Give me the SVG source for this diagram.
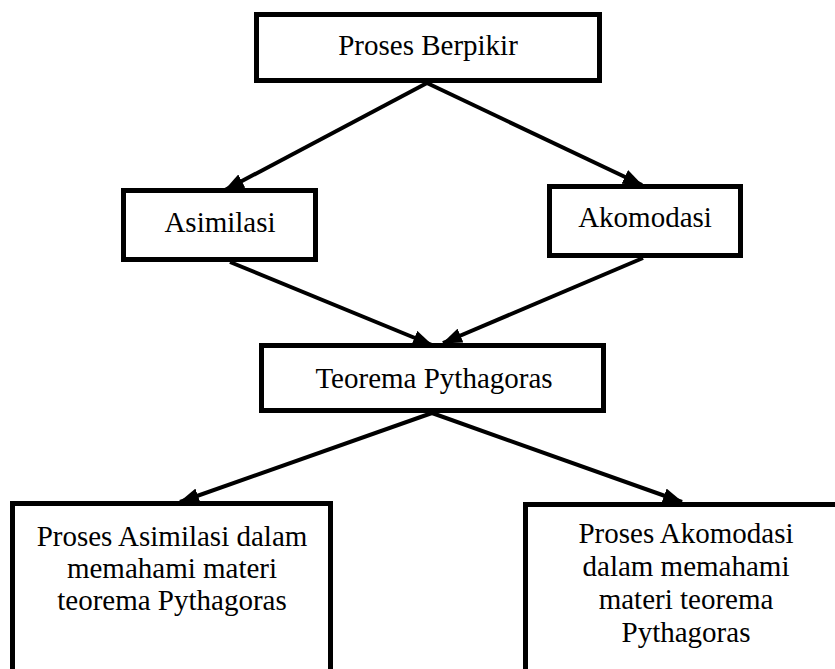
<svg xmlns="http://www.w3.org/2000/svg" width="835" height="669" viewBox="0 0 835 669">
<style>
.box{fill:#fff;stroke:#000;stroke-width:5}
.t{font-family:"Liberation Serif","Times New Roman",serif;font-size:29px;fill:#000;text-anchor:middle}
.c{stroke:#000;stroke-width:4;fill:none}
</style>
<defs>
<marker id="ah" markerUnits="userSpaceOnUse" markerWidth="20" markerHeight="15" refX="19" refY="7.5" orient="auto">
<path d="M0,0 L20,7.5 L0,15 z" fill="#000"/>
</marker>
</defs>
<rect width="835" height="669" fill="#fff"/>
<g id="connectors">
<line class="c" x1="427" y1="83" x2="225" y2="190" marker-end="url(#ah)"/>
<line class="c" x1="427" y1="83" x2="642" y2="185" marker-end="url(#ah)"/>
<line class="c" x1="230" y1="262" x2="432" y2="345" marker-end="url(#ah)"/>
<line class="c" x1="643" y1="258" x2="443" y2="343" marker-end="url(#ah)"/>
<line class="c" x1="432" y1="413" x2="180" y2="502" marker-end="url(#ah)"/>
<line class="c" x1="432" y1="413" x2="682" y2="502" marker-end="url(#ah)"/>
</g>
<g id="proses-berpikir">
<rect class="box" x="256.5" y="14.5" width="343" height="66"/>
<text class="t" x="428" y="55">Proses Berpikir</text>
</g>
<g id="asimilasi">
<rect class="box" x="123.5" y="190.5" width="192" height="69"/>
<text class="t" x="220" y="232">Asimilasi</text>
</g>
<g id="akomodasi">
<rect class="box" x="549.5" y="186.5" width="191" height="69"/>
<text class="t" x="645" y="227">Akomodasi</text>
</g>
<g id="teorema">
<rect class="box" x="261.5" y="345.5" width="342" height="65"/>
<text class="t" x="434" y="388">Teorema Pythagoras</text>
</g>
<g id="proses-asimilasi">
<rect class="box" x="12.5" y="503.5" width="318" height="200"/>
<text class="t" x="172" y="546">Proses Asimilasi dalam</text>
<text class="t" x="172" y="578">memahami materi</text>
<text class="t" x="172" y="610">teorema Pythagoras</text>
</g>
<g id="proses-akomodasi">
<rect class="box" x="525.5" y="504.5" width="321" height="200"/>
<text class="t" x="686" y="543">Proses Akomodasi</text>
<text class="t" x="686" y="576">dalam memahami</text>
<text class="t" x="686" y="609">materi teorema</text>
<text class="t" x="686" y="642">Pythagoras</text>
</g>
</svg>
